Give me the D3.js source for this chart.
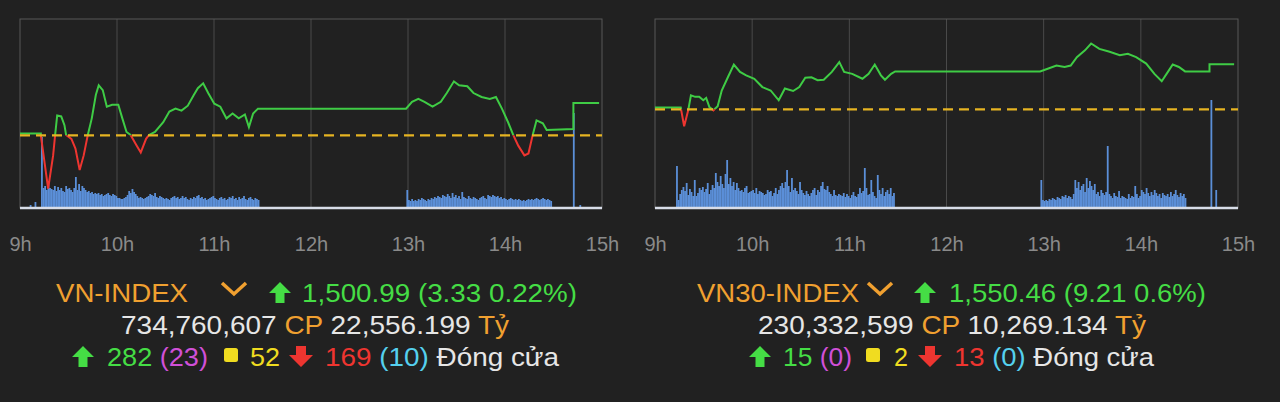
<!DOCTYPE html>
<html><head><meta charset="utf-8">
<script src="https://cdn.jsdelivr.net/npm/d3@7"></script>
<style>body{margin:0;background:#212121;}svg{display:block}</style>
</head><body>
<svg id="c" width="1280" height="402"></svg>
<script>
const hourLabels=["9h","10h","11h","12h","13h","14h","15h"];
// VN-INDEX: [minutes after 9:00, index value]
const vnRef=1497.66;
const vnLine=[[0,1497.84],[12.9,1497.84],[12.9,1497.66],[17.4,1492.2],[20.5,1495.6],[21.7,1497.66],[23,1499.7],[25.5,1499.6],[27.5,1498.7],[28.5,1497.7],[31.8,1497.3],[34.3,1496.3],[36.9,1494.1],[39.4,1495.6],[41.9,1497.66],[44.4,1499.4],[46.9,1501.8],[48.7,1502.8],[51.2,1502.3],[53.7,1500.6],[57,1500.8],[60.8,1500.8],[63.3,1499.4],[65.9,1498.0],[68.4,1497.7],[72.2,1496.6],[74.7,1495.9],[78,1497.3],[79.8,1497.7],[83.5,1498.0],[88.6,1499.0],[92.4,1500.1],[96.2,1500.4],[99.9,1500.2],[103.8,1500.7],[107.5,1501.8],[110,1502.5],[113.3,1503.0],[116.4,1502.0],[120.2,1500.9],[123.9,1500.6],[127.7,1499.4],[131.5,1499.9],[135.3,1499.4],[139.1,1499.8],[141.6,1498.5],[144.2,1499.9],[147.2,1500.4],[238.8,1500.4],[242.5,1501.1],[246.4,1501.4],[250.2,1501.1],[255.2,1500.6],[260.3,1501.1],[264,1502.0],[268.4,1503.2],[271.6,1502.8],[276.7,1502.7],[280.5,1502.0],[285.5,1501.6],[290.6,1501.4],[294.4,1501.6],[298.1,1500.4],[301.9,1499.0],[305.2,1497.66],[308.2,1496.6],[312,1495.6],[314.5,1495.8],[317.1,1497.66],[319.5,1499.2],[323.4,1498.9],[325.8,1498.2],[342.3,1498.3],[342.3,1500.99],[358.2,1500.99]];
const vnVolAmStart=13;
const vnVolAm=[71,20,22,18,25,20,19,18,22,17,21,18,20,17,16,22,19,20,18,16,
20,31,18,24,17,22,20,18,16,17,15,16,14,15,14,15,13,14,12,13,
14,15,13,12,14,13,12,10,10,9,9,10,11,13,17,15,19,16,14,12,
10,11,10,9,10,11,12,14,13,12,15,11,10,12,11,10,9,10,9,8,
10,11,12,10,11,9,10,12,10,11,9,8,10,9,11,10,12,13,10,11,
9,10,8,9,10,11,12,10,9,8,10,11,9,10,8,9,11,10,12,9,
10,8,11,9,10,12,9,8,10,11,9,8,10,9,8];
const vnVolPmStart=239;
const vnVolPm=[18,8,7,9,7,8,7,9,8,10,9,8,7,9,8,10,9,11,10,12,
11,10,13,12,11,14,12,10,15,11,13,10,12,9,16,11,10,9,12,10,
9,11,10,9,8,10,11,12,10,9,13,12,11,13,12,11,12,10,11,9,
10,9,8,9,10,9,8,9,8,9,8,7,8,7,8,9,8,9,8,9,10,9,8,9,10,9,8,9,8,7];
const vnVolExtra=[[6,3],[9,6],[342,95],[346,3]];

// VN30-INDEX
const v30Ref=1541.25;
const v30Line=[[0,1541.6],[15.9,1541.6],[18,1537.8],[20.5,1541.05],[22.2,1544.1],[24.8,1543.8],[27.3,1543.8],[29.8,1543.1],[31.6,1543.6],[33.6,1541.7],[36.1,1541.05],[38.7,1541.9],[41.2,1545.1],[45,1547.8],[48.7,1550.4],[52.5,1548.9],[56.3,1548.2],[61.3,1547.5],[66.3,1545.8],[71.4,1545.1],[76.4,1543.1],[80.2,1545.5],[85.3,1545.0],[89.1,1545.8],[92.8,1547.7],[96.6,1547.8],[100.4,1547.2],[104.2,1547.3],[109.2,1548.9],[113.8,1550.9],[116.8,1548.9],[121.8,1548.5],[128.1,1547.5],[131.9,1548.5],[135.7,1550.4],[139.5,1548.2],[142,1547.3],[145.8,1548.5],[148.3,1549.0],[237.8,1549.0],[242.9,1549.6],[247.9,1550.2],[252.9,1549.9],[256.7,1550.2],[260.5,1551.9],[265.5,1553.3],[269.3,1554.7],[274.4,1553.6],[280.7,1553.0],[287,1552.3],[292,1552.6],[297.1,1551.9],[303.3,1550.6],[308.4,1548.5],[312.9,1547.0],[315.9,1548.5],[319.7,1550.4],[323.5,1549.9],[327.3,1549.0],[342.4,1549.0],[342.4,1550.46],[357.6,1550.46]];
const v30VolAmStart=13;
const v30VolAm=[42,8,14,18,21,17,25,13,19,16,12,28,12,15,20,18,21,16,19,25,
14,18,23,20,35,26,22,32,24,20,34,48,24,30,22,26,18,25,20,17,
18,16,20,22,15,16,17,18,15,20,14,17,16,15,13,14,18,16,17,12,
15,20,14,18,22,25,20,26,38,22,16,30,18,20,17,14,26,18,15,13,
17,14,12,15,18,20,13,18,16,22,26,19,18,22,16,14,12,18,13,12,
14,13,12,15,11,14,12,10,13,16,12,11,14,20,15,17,40,20,13,14,
28,16,12,10,33,18,14,20,12,16,18,14,20,12,15];
const v30VolPmStart=238;
const v30VolPm=[28,8,7,8,7,9,8,10,9,8,11,10,9,12,11,13,10,12,11,9,
14,28,20,26,18,22,24,16,30,20,27,22,18,24,14,16,12,18,15,13,
16,62,14,12,10,15,12,11,17,10,12,11,10,9,14,10,12,11,22,14,
10,12,18,16,14,20,15,12,16,13,18,15,12,14,10,15,13,12,14,11,
16,12,14,18,13,11,15,12,14,10];
const v30VolExtra=[[343,108],[346,18]];

const svg=d3.select("#c");
const F="'Liberation Sans', Arial, sans-serif";

function chart(o){
  const g=svg.append("g");
  const x=d3.scaleLinear().domain([0,360]).range([o.x0,o.x1]);
  const y=d3.scaleLinear().domain(o.yDom).range([208,19]);
  const yv=d3.scaleLinear().domain([0,189]).range([208,19]);
  const ax=d3.axisBottom(d3.scaleLinear().domain([0,6]).range([o.x0,o.x1])).ticks(6).tickFormat((d,i)=>hourLabels[i]).tickSize(0);
  g.selectAll(".gl").data(d3.range(1,6)).join("line")
   .attr("x1",d=>x(d*60)).attr("x2",d=>x(d*60)).attr("y1",19).attr("y2",208)
   .attr("stroke","#4a4a4a").attr("stroke-width",1);
  g.append("rect").attr("x",o.x0).attr("y",19).attr("width",o.x1-o.x0).attr("height",189)
   .attr("fill","none").attr("stroke","#585858").attr("stroke-width",1);
  const vols=[...o.am.map((v,i)=>[o.amS+i,v]),...o.pm.map((v,i)=>[o.pmS+i,v]),...o.ex];
  g.selectAll(".v").data(vols).join("rect")
   .attr("x",d=>x(d[0])).attr("width",1.8).attr("y",d=>yv(d[1])).attr("height",d=>208-yv(d[1]))
   .attr("fill","#5b8fd8");
  const ry=y(o.ref);
  const id="c"+o.id;
  const defs=g.append("defs");
  defs.append("clipPath").attr("id",id+"u").append("rect").attr("x",o.x0).attr("y",0).attr("width",o.x1-o.x0).attr("height",ry);
  defs.append("clipPath").attr("id",id+"d").append("rect").attr("x",o.x0).attr("y",ry).attr("width",o.x1-o.x0).attr("height",300);
  const ln=d3.line().x(d=>x(d[0])).y(d=>y(d[1]));
  g.append("path").attr("d",ln(o.line)).attr("fill","none").attr("stroke","#3fcc45").attr("stroke-width",2).attr("clip-path",`url(#${id}u)`);
  g.append("path").attr("d",ln(o.line)).attr("fill","none").attr("stroke","#ee3530").attr("stroke-width",2).attr("clip-path",`url(#${id}d)`);
  g.append("line").attr("x1",o.x0).attr("x2",o.x1).attr("y1",ry).attr("y2",ry)
   .attr("stroke","#e6b422").attr("stroke-width",2.2).attr("stroke-dasharray","10,6");
  g.append("line").attr("x1",o.x0).attr("x2",o.x1).attr("y1",208).attr("y2",208).attr("stroke","#d8dde8").attr("stroke-width",2.5);
  const a=g.append("g").attr("transform","translate(0,241)").call(ax);
  a.select(".domain").remove();
  a.selectAll("text").attr("fill","#8a8a8a").attr("font-size",20).attr("font-family",F).attr("dy","0.35em");
}
chart({id:1,x0:20,x1:602,yDom:[1490.2,1509.6],ref:vnRef,line:vnLine,am:vnVolAm,amS:vnVolAmStart,pm:vnVolPm,pmS:vnVolPmStart,ex:vnVolExtra});
chart({id:2,x0:655,x1:1238,yDom:[1521.1,1559.7],ref:v30Ref,line:v30Line,am:v30VolAm,amS:v30VolAmStart,pm:v30VolPm,pmS:v30VolPmStart,ex:v30VolExtra});

const C={o:"#f0a030",g:"#45dd45",w:"#e6e6e6",r:"#ee3530",m:"#d050d8",c:"#55d0ee",y:"#f0dc20"};
function up(x,yb,col){
  svg.append("path").attr("d",`M${x},${yb-20} l-11,11 h6.5 v10 h9 v-10 h6.5 z`).attr("fill",col);
}
function down(x,yb,col){
  svg.append("path").attr("d",`M${x},${yb+1} l-12,-12 h7 v-9 h10 v9 h7 z`).attr("fill",col);
}
function chev(x,yb){
  svg.append("path").attr("d",`M${x-12},${yb-19} L${x},${yb-8} L${x+12},${yb-19}`).attr("fill","none").attr("stroke",C.o).attr("stroke-width",3.5);
}
function sq(x,yb){
  svg.append("rect").attr("x",x).attr("y",yb-18).attr("width",14).attr("height",14).attr("rx",2.5).attr("fill",C.y);
}
function line(x,yb,parts,len){
  const t=svg.append("text").attr("x",x).attr("y",yb).attr("font-family",F).attr("font-size",26);
  if(len) t.attr("textLength",len).attr("lengthAdjust","spacingAndGlyphs");
  parts.forEach(p=>t.append("tspan").attr("fill",C[p[1]]).text(p[0]));
}
// left
line(56,302,[["VN-INDEX","o"]],132);chev(234,302);up(280,302,C.g);
line(302,302,[["1,500.99 (3.33 0.22%)","g"]],275);
line(121,334,[["734,760,607 ","w"],["CP ","o"],["22,556.199 ","w"],["Tỷ","o"]],388);
up(83,366,C.g);line(107,366,[["282 ","g"],["(23)","m"]],101);
sq(224,366);
line(250,366,[["52","y"]],30);down(301,366,C.r);line(325,366,[["169 ","r"],["(10) ","c"],["Đóng cửa","w"]],234);
// right
line(697,302,[["VN30-INDEX","o"]],162);chev(880,302);up(925,302,C.g);
line(949,302,[["1,550.46 (9.21 0.6%)","g"]],257);
line(758,334,[["230,332,599 ","w"],["CP ","o"],["10,269.134 ","w"],["Tỷ","o"]],388);
up(760,366,C.g);line(783,366,[["15 ","g"],["(0)","m"]],69);
sq(866,366);
line(894,366,[["2","y"]],14);down(930,366,C.r);line(954,366,[["13 ","r"],["(0) ","c"],["Đóng cửa","w"]],200);
</script>
</body></html>
